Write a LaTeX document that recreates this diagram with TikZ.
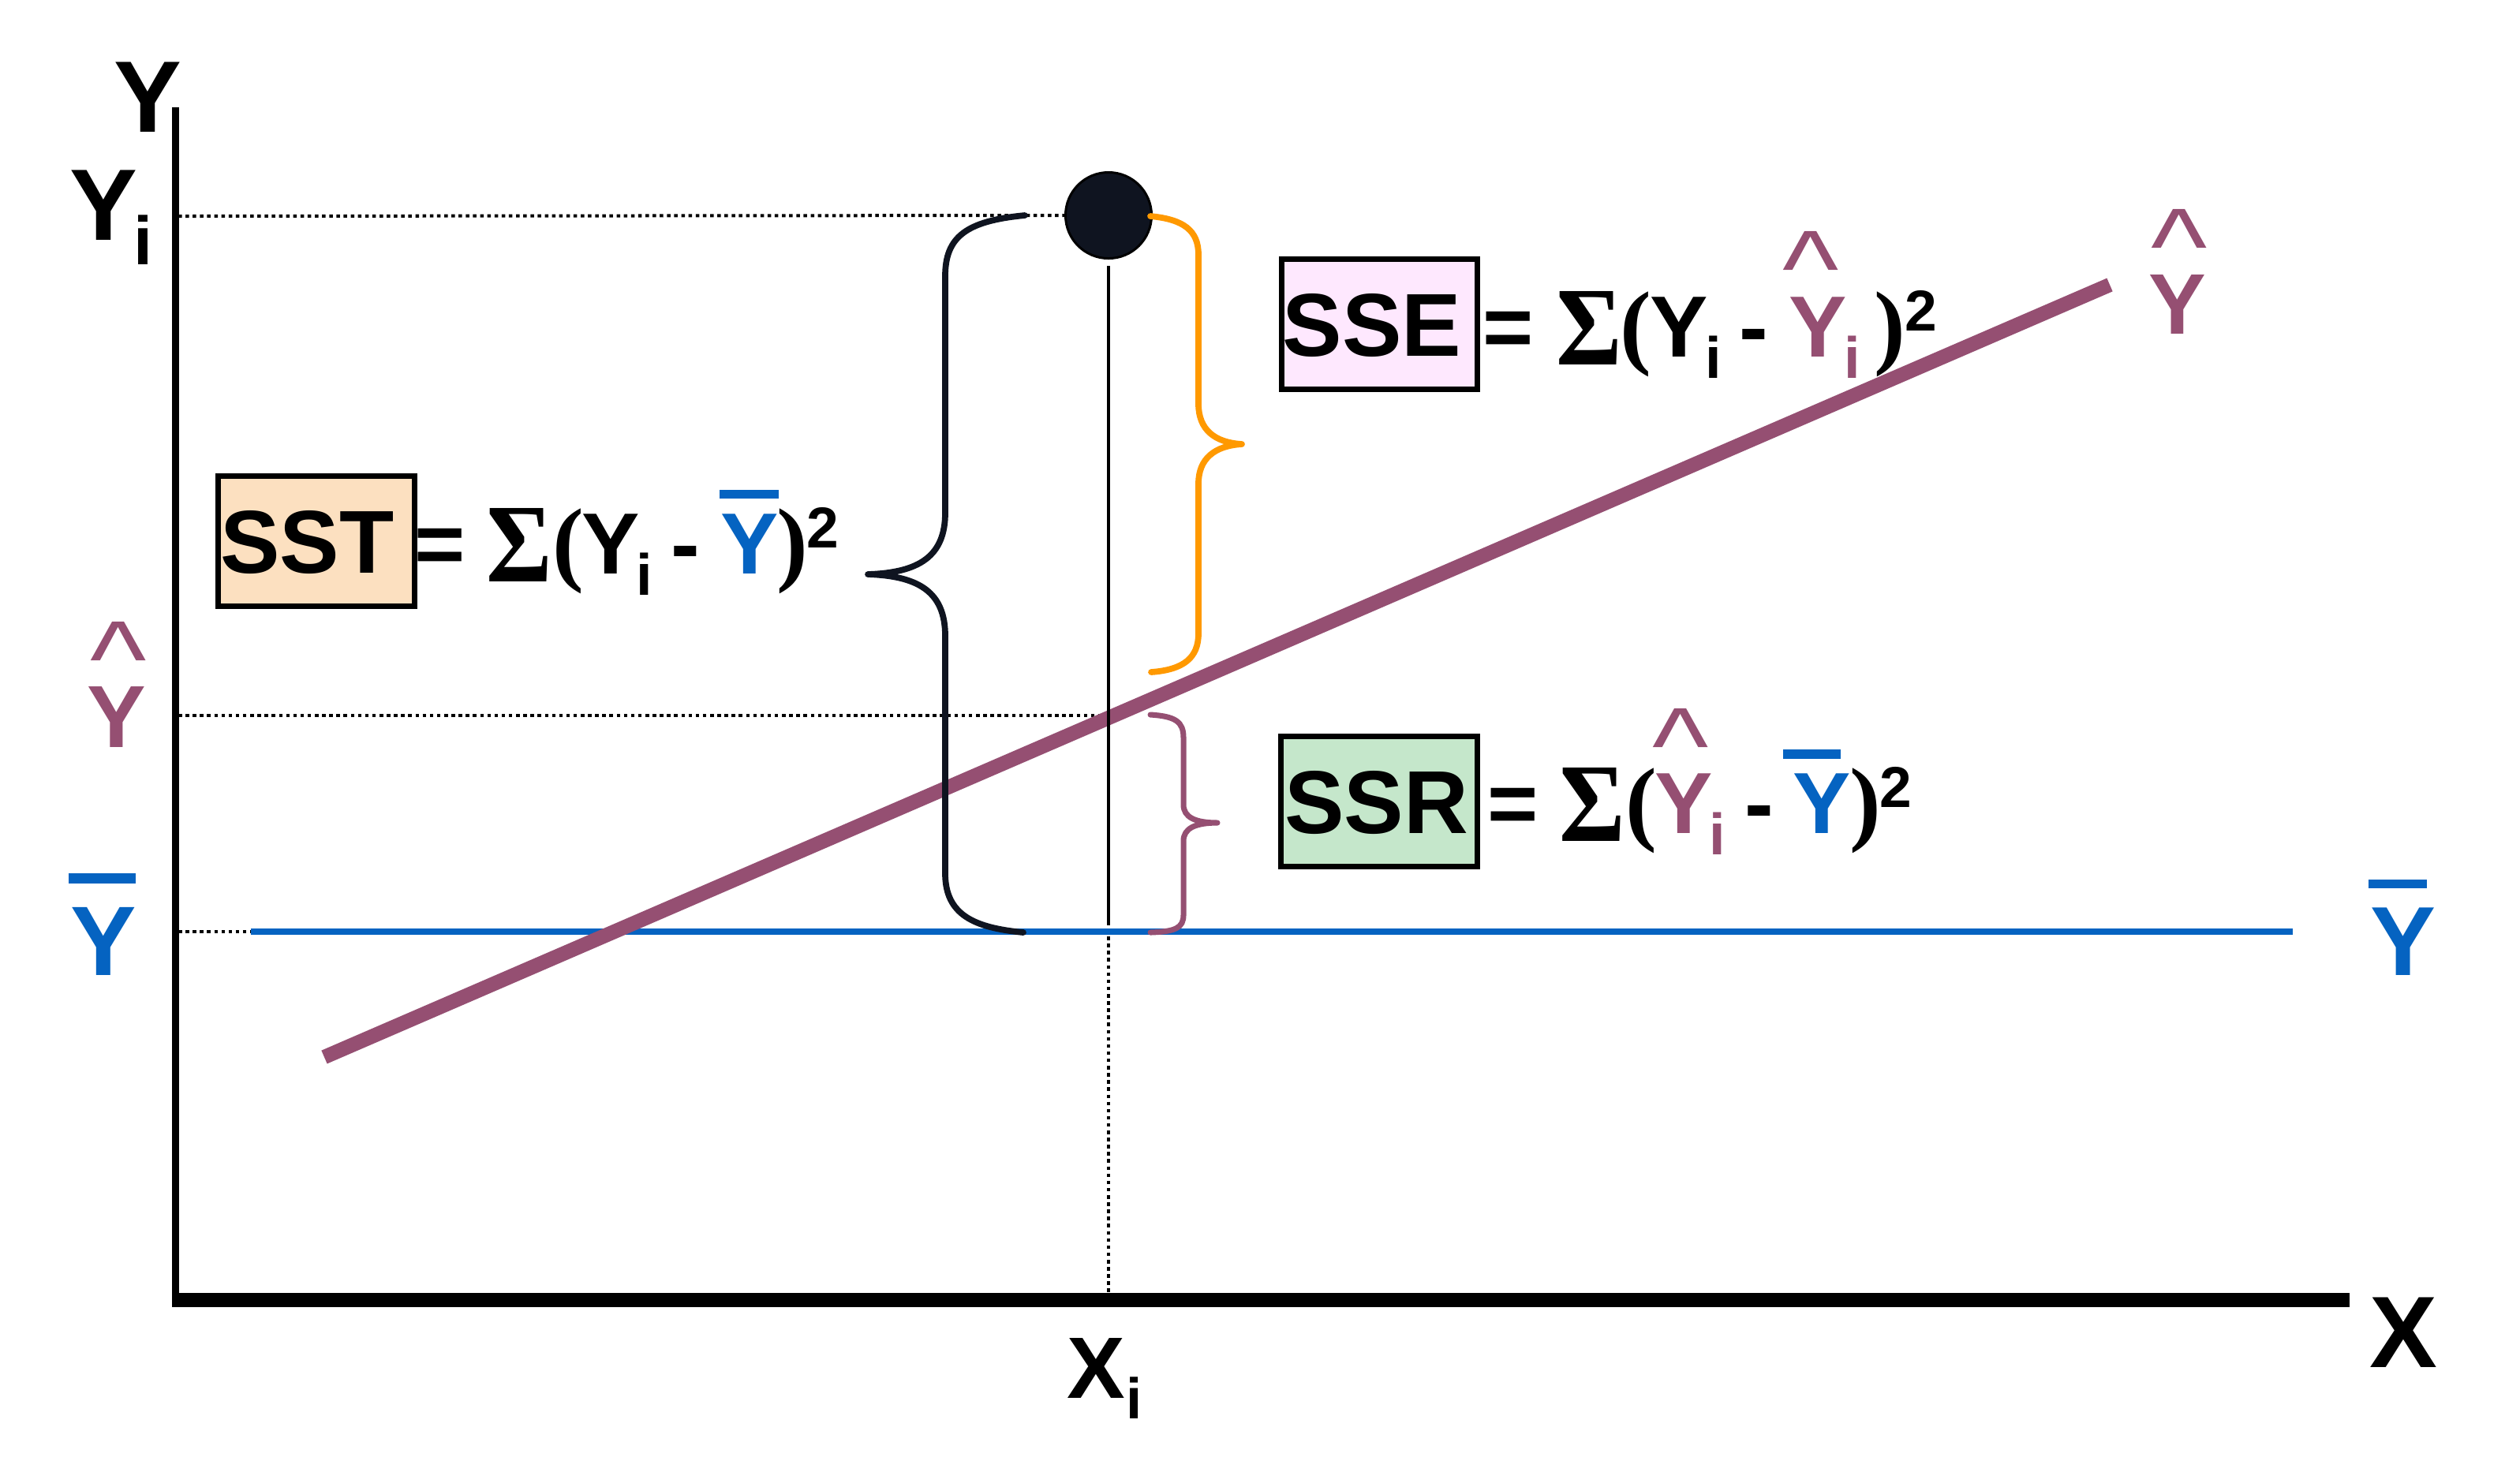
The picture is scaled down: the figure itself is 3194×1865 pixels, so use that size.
\documentclass[tikz,border=0pt]{standalone}
\usepackage{fontspec}
\setmainfont{Liberation Sans}
\newfontfamily\serifm{Liberation Serif}
\newdimen\PX \PX=0.28453pt
\newcommand\fz[1]{\fontsize{#1pt}{#1pt}\selectfont}
\newcommand\At[2]{\rlap{\hspace*{#1\PX}\makebox[0pt]{#2}}}
\newcommand\Rs[2]{\raisebox{#1\PX}{#2}}
\newcommand\hatg{\scalebox{1}[0.9]{\fz{43.2}\mdseries\textasciicircum}}
\newcommand\sig{\Rs{-10}{\scalebox{0.9}[1]{\serifm\bfseries\fz{40.4}Σ}}}
\newcommand\lpar{{\serifm\bfseries\fz{33.9}(}}
\newcommand\rpar{{\serifm\bfseries\fz{33.9})}}
\newcommand\subi{\Rs{-27}{\fz{21}i}}
\newcommand\supt{\Rs{33}{\fz{20.8}2}}
\definecolor{pur}{HTML}{954F72}
\definecolor{blu}{HTML}{0563C1}
\definecolor{org}{HTML}{FF9900}
\definecolor{nav}{HTML}{0F1420}
\definecolor{sstfill}{HTML}{FCE0C0}
\definecolor{ssefill}{HTML}{FEE8FE}
\definecolor{ssrfill}{HTML}{C5E7CB}
\tikzset{
  lbl/.style={inner sep=0pt, outer sep=0pt, font=\bfseries, anchor=base},
  ssbox/.style={draw=black, line width=1.99pt, inner sep=0pt, minimum width=2.48cm, minimum height=1.65cm, font=\bfseries\fz{32.2}, text height=23pt, text depth=0pt},
  dotl/.style={line width=1.14pt, dash pattern=on 1.28pt off 1.31pt},
  brace/.style={line width=2.2pt, line cap=round, line join=round},
}
\begin{document}
\begin{tikzpicture}[x=0.01cm, y=-0.01cm]
\useasboundingbox (0,0) rectangle (3194,1865);
\fill[white] (0,0) rectangle (3194,1865);
% axes
\coordinate (ytop) at (222,136);
\coordinate (ybot) at (222,1648);
\coordinate (xl) at (218,1648);
\coordinate (xr) at (2978,1648);
\draw[line width=2.56pt] (ytop) -- (ybot);
\draw[line width=5.12pt] (xl) -- (xr);
% point
\node[circle, draw=black, fill=nav, line width=0.85pt, minimum size=1.09cm, inner sep=0pt] (pt) at (1405,273) {};
% dotted guide lines
\coordinate (yi0) at (226,274);
\coordinate (yh0) at (226,907);
\coordinate (yh1) at (1405,907);
\coordinate (yb0) at (226,1181);
\coordinate (yb1) at (318,1181);
\coordinate (yb2) at (2906,1181);
\coordinate (v0) at (1405,337);
\coordinate (v1) at (1405,1173);
\coordinate (v2) at (1405,1178);
\coordinate (v3) at (1405,1639);
\draw[dotl] (yi0) -- (pt.west);
\draw[dotl] (yh0) -- (yh1);
\draw[dotl] (yb0) -- (yb1);
\draw[dotl] (v2) -- (v3);
% mean line
\draw[blu, line width=2.47pt] (yb1) -- (yb2);
% regression line
\coordinate (r0) at (411,1340);
\coordinate (r1) at (2674,361);
\draw[pur, line width=5.2pt] (r0) -- (r1);
% vertical line
\draw[black, line width=1.34pt] (v0) -- (v1);
% braces
\draw[brace, nav] (1299,273) .. controls (1225,280) and (1198,300) .. (1198,350) -- (1198,650)
  .. controls (1198,705) and (1165,726) .. (1100,728)
  .. controls (1165,730) and (1198,751) .. (1198,806) -- (1198,1107)
  .. controls (1198,1160) and (1235,1176) .. (1297,1182);
\draw[brace, org] (1458,274) .. controls (1500,278) and (1519,292) .. (1519,323) -- (1519,512)
  .. controls (1519,545) and (1540,561) .. (1574,563)
  .. controls (1540,565) and (1519,581) .. (1519,613) -- (1519,803)
  .. controls (1519,834) and (1500,849) .. (1459,852);
\draw[brace, pur, line width=2pt] (1458,906) .. controls (1490,908) and (1500,915) .. (1500,935) -- (1500,1020)
  .. controls (1500,1036) and (1515,1043) .. (1543,1043)
  .. controls (1515,1043) and (1500,1050) .. (1500,1066) -- (1500,1160)
  .. controls (1500,1176) and (1490,1181) .. (1458,1182);
% boxes
\node[ssbox, fill=sstfill] (sst) at (401,686) {SST\hspace*{23\PX}};
\node[ssbox, fill=ssefill] (sse) at (1748.5,411) {SSE\hspace*{19\PX}};
\node[ssbox, fill=ssrfill] (ssr) at (1748,1016) {SSR\hspace*{7\PX}};
% formulas
\node[lbl] (sstf) at (529,727) {\fz{31.3}\At{28.5}{=}\At{129.5}{\sig}\At{191.5}{\lpar}\At{245}{Y}\At{288}{\subi}\At{340}{-}\At{420.5}{\color{blu}\rule[95\PX]{75\PX}{11\PX}}\At{420.5}{\color{blu}Y}\At{475.5}{\rpar}\At{514}{\supt}};
\node[lbl] (ssef) at (1884,452) {\fz{31.3}\At{28}{=}\At{130}{\sig}\At{189.5}{\lpar}\At{244.5}{Y}\At{287.5}{\subi}\At{339}{-}\At{410.5}{\color{pur}\Rs{64}{\hatg}}\At{419.5}{\color{pur}Y}\At{463}{\color{pur}\subi}\At{511.5}{\rpar}\At{550}{\supt}};
\node[lbl] (ssrf) at (1890,1056) {\fz{31.3}\At{28}{=}\At{128.5}{\sig}\At{190.5}{\lpar}\At{240}{\color{pur}\Rs{63}{\hatg}}\At{244}{\color{pur}Y}\At{287}{\color{pur}\subi}\At{339.5}{-}\At{406.5}{\color{blu}\rule[94\PX]{73\PX}{12\PX}}\At{419}{\color{blu}Y}\At{474}{\rpar}\At{512.5}{\supt}};
% axis labels
\node[lbl] (ylab) at (187,167) {\fz{36.6}Y};
\node[lbl] (yilab) at (131.5,304) {\fz{36.6}\At{0}{Y}\At{49.5}{\Rs{-31}{\fz{24.6}i}}};
\node[lbl] (yhl) at (148,947) {\fz{31.8}\color{pur}\At{2}{\Rs{64}{\hatg}}\At{0}{Y}};
\node[lbl] (ybl) at (131.5,1236) {\fz{35.6}\color{blu}\At{-2}{\rule[116\PX]{85\PX}{13\PX}}\At{0}{Y}};
\node[lbl] (yhr) at (2759.5,423) {\fz{31}\color{pur}\At{3}{\Rs{63}{\hatg}}\At{0}{Y}};
\node[lbl] (ybr) at (3046,1236) {\fz{35.4}\color{blu}\At{-7}{\rule[110\PX]{74\PX}{11\PX}}\At{0}{Y}};
\node[lbl] (xlab) at (3046.5,1733) {\fz{36.6}X};
\node[lbl] (xilab) at (1389.5,1772) {\fz{31.4}\At{0}{X}\At{48.5}{\Rs{-26}{\fz{20.7}i}}};
\end{tikzpicture}
\end{document}
